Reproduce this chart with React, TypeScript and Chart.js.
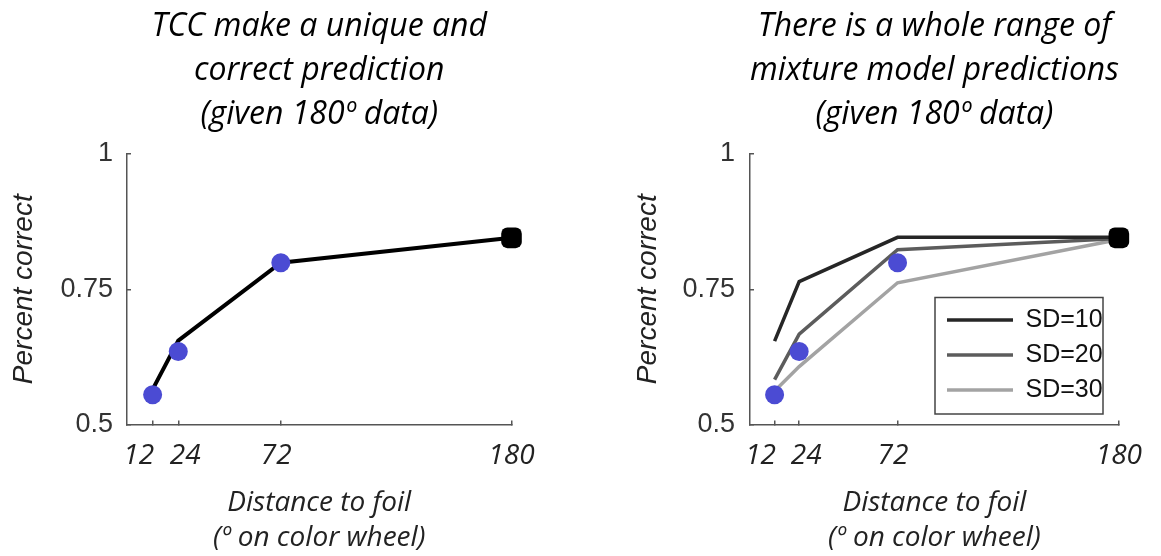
import { useEffect, useRef } from 'react';
import { Chart, registerables } from 'chart.js';

Chart.register(...registerables);

// ---- data ----
const distances = [12, 24, 72, 180];
const xTickValues = [12, 24, 72, 180];
const yTickValues = [0.5, 0.75, 1];
const observedShort = [0.555, 0.635, 0.799]; // data at 12, 24, 72
const observed180 = [0.845]; // data at 180 (black)
const tccPrediction = [0.565, 0.655, 0.799, 0.845];
const sd10 = [0.654, 0.764, 0.846, 0.846];
const sd20 = [0.583, 0.667, 0.823, 0.844];
const sd30 = [0.562, 0.607, 0.762, 0.842];
const sdLabels = ['SD=10', 'SD=20', 'SD=30'];
const leftTitle = ['TCC make a unique and', 'correct prediction', '(given 180º data)'];
const rightTitle = ['There is a whole range of', 'mixture model predictions', '(given 180º data)'];
const xTitle = ['Distance to foil', '(º on color wheel)'];
const yTitle = 'Percent correct';

const BLUE = '#4B4BD3';
const AXIS = '#555555';
const ITALIC_FAMILY = "'Open Sans', Lato, sans-serif";

function pts(xs: number[], ys: number[]) {
  return ys.map((y, i) => ({ x: xs[i], y }));
}

// small spacing nudges so the crowded 12/24 labels sit as in the original figure
function xTickLabel(v: number) {
  const s = String(v);
  if (v === 12) return s + '\u2003';
  if (v === 24) return '\u2002' + s;
  if (v === 72) return s + '\u2009\u2009';
  return s;
}

function scalesFor(yTitlePad: number, yWidth: number, tickPad: number) {
  return {
    x: {
      type: 'linear',
      min: 0,
      max: 180,
      afterBuildTicks: (sc: any) => {
        sc.ticks = xTickValues.map((v) => ({ value: v }));
      },
      afterFit: (sc: any) => {
        sc.height = 131.5;
      },
      ticks: {
        autoSkip: false,
        maxRotation: 0,
        padding: 19,
        color: '#222',
        font: { family: ITALIC_FAMILY, style: 'italic', size: 28 },
        callback: (v: any) => xTickLabel(Number(v)),
      },
      grid: { display: true, drawOnChartArea: false, drawTicks: true, tickLength: -4, color: AXIS, lineWidth: 1.5 },
      border: { display: true, color: AXIS, width: 1.5 },
      title: {
        display: true,
        text: xTitle,
        color: '#222',
        font: { family: ITALIC_FAMILY, style: 'italic', size: 28, lineHeight: 35 / 28 },
        padding: { top: 0, bottom: 0 },
      },
    },
    y: {
      type: 'linear',
      min: 0.5,
      max: 1,
      afterBuildTicks: (sc: any) => {
        sc.ticks = yTickValues.map((v) => ({ value: v }));
      },
      afterFit: (sc: any) => {
        sc.width = yWidth;
      },
      ticks: {
        padding: tickPad,
        color: '#333',
        font: { family: 'Liberation Sans', size: 27 },
        callback: (v: any) => String(v),
      },
      grid: { display: true, drawOnChartArea: false, drawTicks: true, tickLength: -4, color: AXIS, lineWidth: 1.5 },
      border: { display: true, color: AXIS, width: 1.5 },
      title: {
        display: true,
        text: yTitle,
        color: '#222',
        font: { family: 'Liberation Sans', style: 'italic', size: 28, lineHeight: 1.2 },
        padding: { top: yTitlePad, bottom: 0 },
      },
    },
  };
}

const titleOpts = (text: string[]) => ({
  display: true,
  fullSize: false,
  text,
  color: '#000',
  font: { family: ITALIC_FAMILY, style: 'italic', size: 32, weight: 'normal', lineHeight: 44 / 32 },
  padding: { top: 5, bottom: 17 },
});

const legendPlace = {
  id: 'legendPlace',
  afterLayout(chart: any) {
    const lg = chart.legend;
    if (!lg || !lg.options.display) return;
    lg.left = chart.chartArea.left + 187;
    lg.right = lg.left + 170;
    lg.top = chart.chartArea.top + 143.5;
    lg.bottom = lg.top + 120;
  },
  afterDraw(chart: any) {
    const lg = chart.legend;
    if (!lg || !lg.options.display) return;
    const ctx = chart.ctx;
    ctx.save();
    ctx.strokeStyle = '#444';
    ctx.lineWidth = 1.5;
    ctx.strokeRect(lg.left - 2, lg.top, 168, 116.5);
    ctx.restore();
  },
};

function markerSets(): any[] {
  return [
    {
      label: 'Data',
      data: pts(distances, observedShort),
      showLine: false,
      pointRadius: 9.5,
      pointBackgroundColor: BLUE,
      pointBorderWidth: 0,
      clip: false,
    },
    {
      label: 'Data 180',
      data: pts(distances.slice(3), observed180),
      showLine: false,
      pointStyle: 'rectRounded',
      pointRadius: 12,
      pointBackgroundColor: '#000',
      pointBorderWidth: 0,
      clip: false,
    },
  ];
}

function leftConfig(): any {
  return {
    type: 'line',
    data: {
      datasets: [
        ...markerSets(),
        {
          label: 'TCC',
          data: pts(distances, tccPrediction),
          borderColor: '#000',
          borderWidth: 4,
          pointRadius: 0,
          clip: false,
        },
      ],
    },
    options: {
      responsive: false,
      animation: false,
      events: [],
      layout: { padding: { left: 50.5, right: 68.5, top: 0, bottom: 0 } },
      scales: scalesFor(-42.8, 76.5, 18),
      plugins: {
        title: titleOpts(leftTitle),
        legend: { display: false },
        tooltip: { enabled: false },
      },
    },
  };
}

function rightConfig(): any {
  return {
    type: 'line',
    data: {
      datasets: [
        ...markerSets(),
        {
          label: sdLabels[0],
          data: pts(distances, sd10),
          borderColor: '#262626',
          borderWidth: 3.5,
          pointRadius: 0,
          clip: false,
        },
        {
          label: sdLabels[1],
          data: pts(distances, sd20),
          borderColor: '#5c5c5c',
          borderWidth: 3.5,
          pointRadius: 0,
          clip: false,
        },
        {
          label: sdLabels[2],
          data: pts(distances, sd30),
          borderColor: '#a3a3a3',
          borderWidth: 3.5,
          pointRadius: 0,
          clip: false,
        },
      ],
    },
    options: {
      responsive: false,
      animation: false,
      events: [],
      layout: { padding: { left: 90, right: 32, top: 0, bottom: 0 } },
      scales: scalesFor(-38.3, 80, 19),
      plugins: {
        title: titleOpts(rightTitle),
        legend: {
          display: true,
          position: 'chartArea',
          fullSize: false,
          align: 'start',
          labels: {
            usePointStyle: true,
            pointStyle: 'line',
            pointStyleWidth: 66,
            padding: 10,
            color: '#111',
            font: { family: 'Liberation Sans', size: 25 },
            filter: (item: any) => sdLabels.includes(item.text),
          },
        },
        tooltip: { enabled: false },
      },
    },
    plugins: [legendPlace],
  };
}

export default function App() {
  const leftRef = useRef<HTMLCanvasElement>(null);
  const rightRef = useRef<HTMLCanvasElement>(null);
  useEffect(() => {
    const c1 = new Chart(leftRef.current as HTMLCanvasElement, leftConfig());
    const c2 = new Chart(rightRef.current as HTMLCanvasElement, rightConfig());
    return () => {
      c1.destroy();
      c2.destroy();
    };
  }, []);
  return (
    <div style={{ position: 'absolute', left: 0, top: 0, width: 1161, height: 556, overflow: 'hidden', background: '#fff' }}>
      <canvas ref={leftRef} width={580} height={556} style={{ position: 'absolute', left: 0, top: 0 }} />
      <canvas ref={rightRef} width={581} height={556} style={{ position: 'absolute', left: 580, top: 0 }} />
    </div>
  );
}
